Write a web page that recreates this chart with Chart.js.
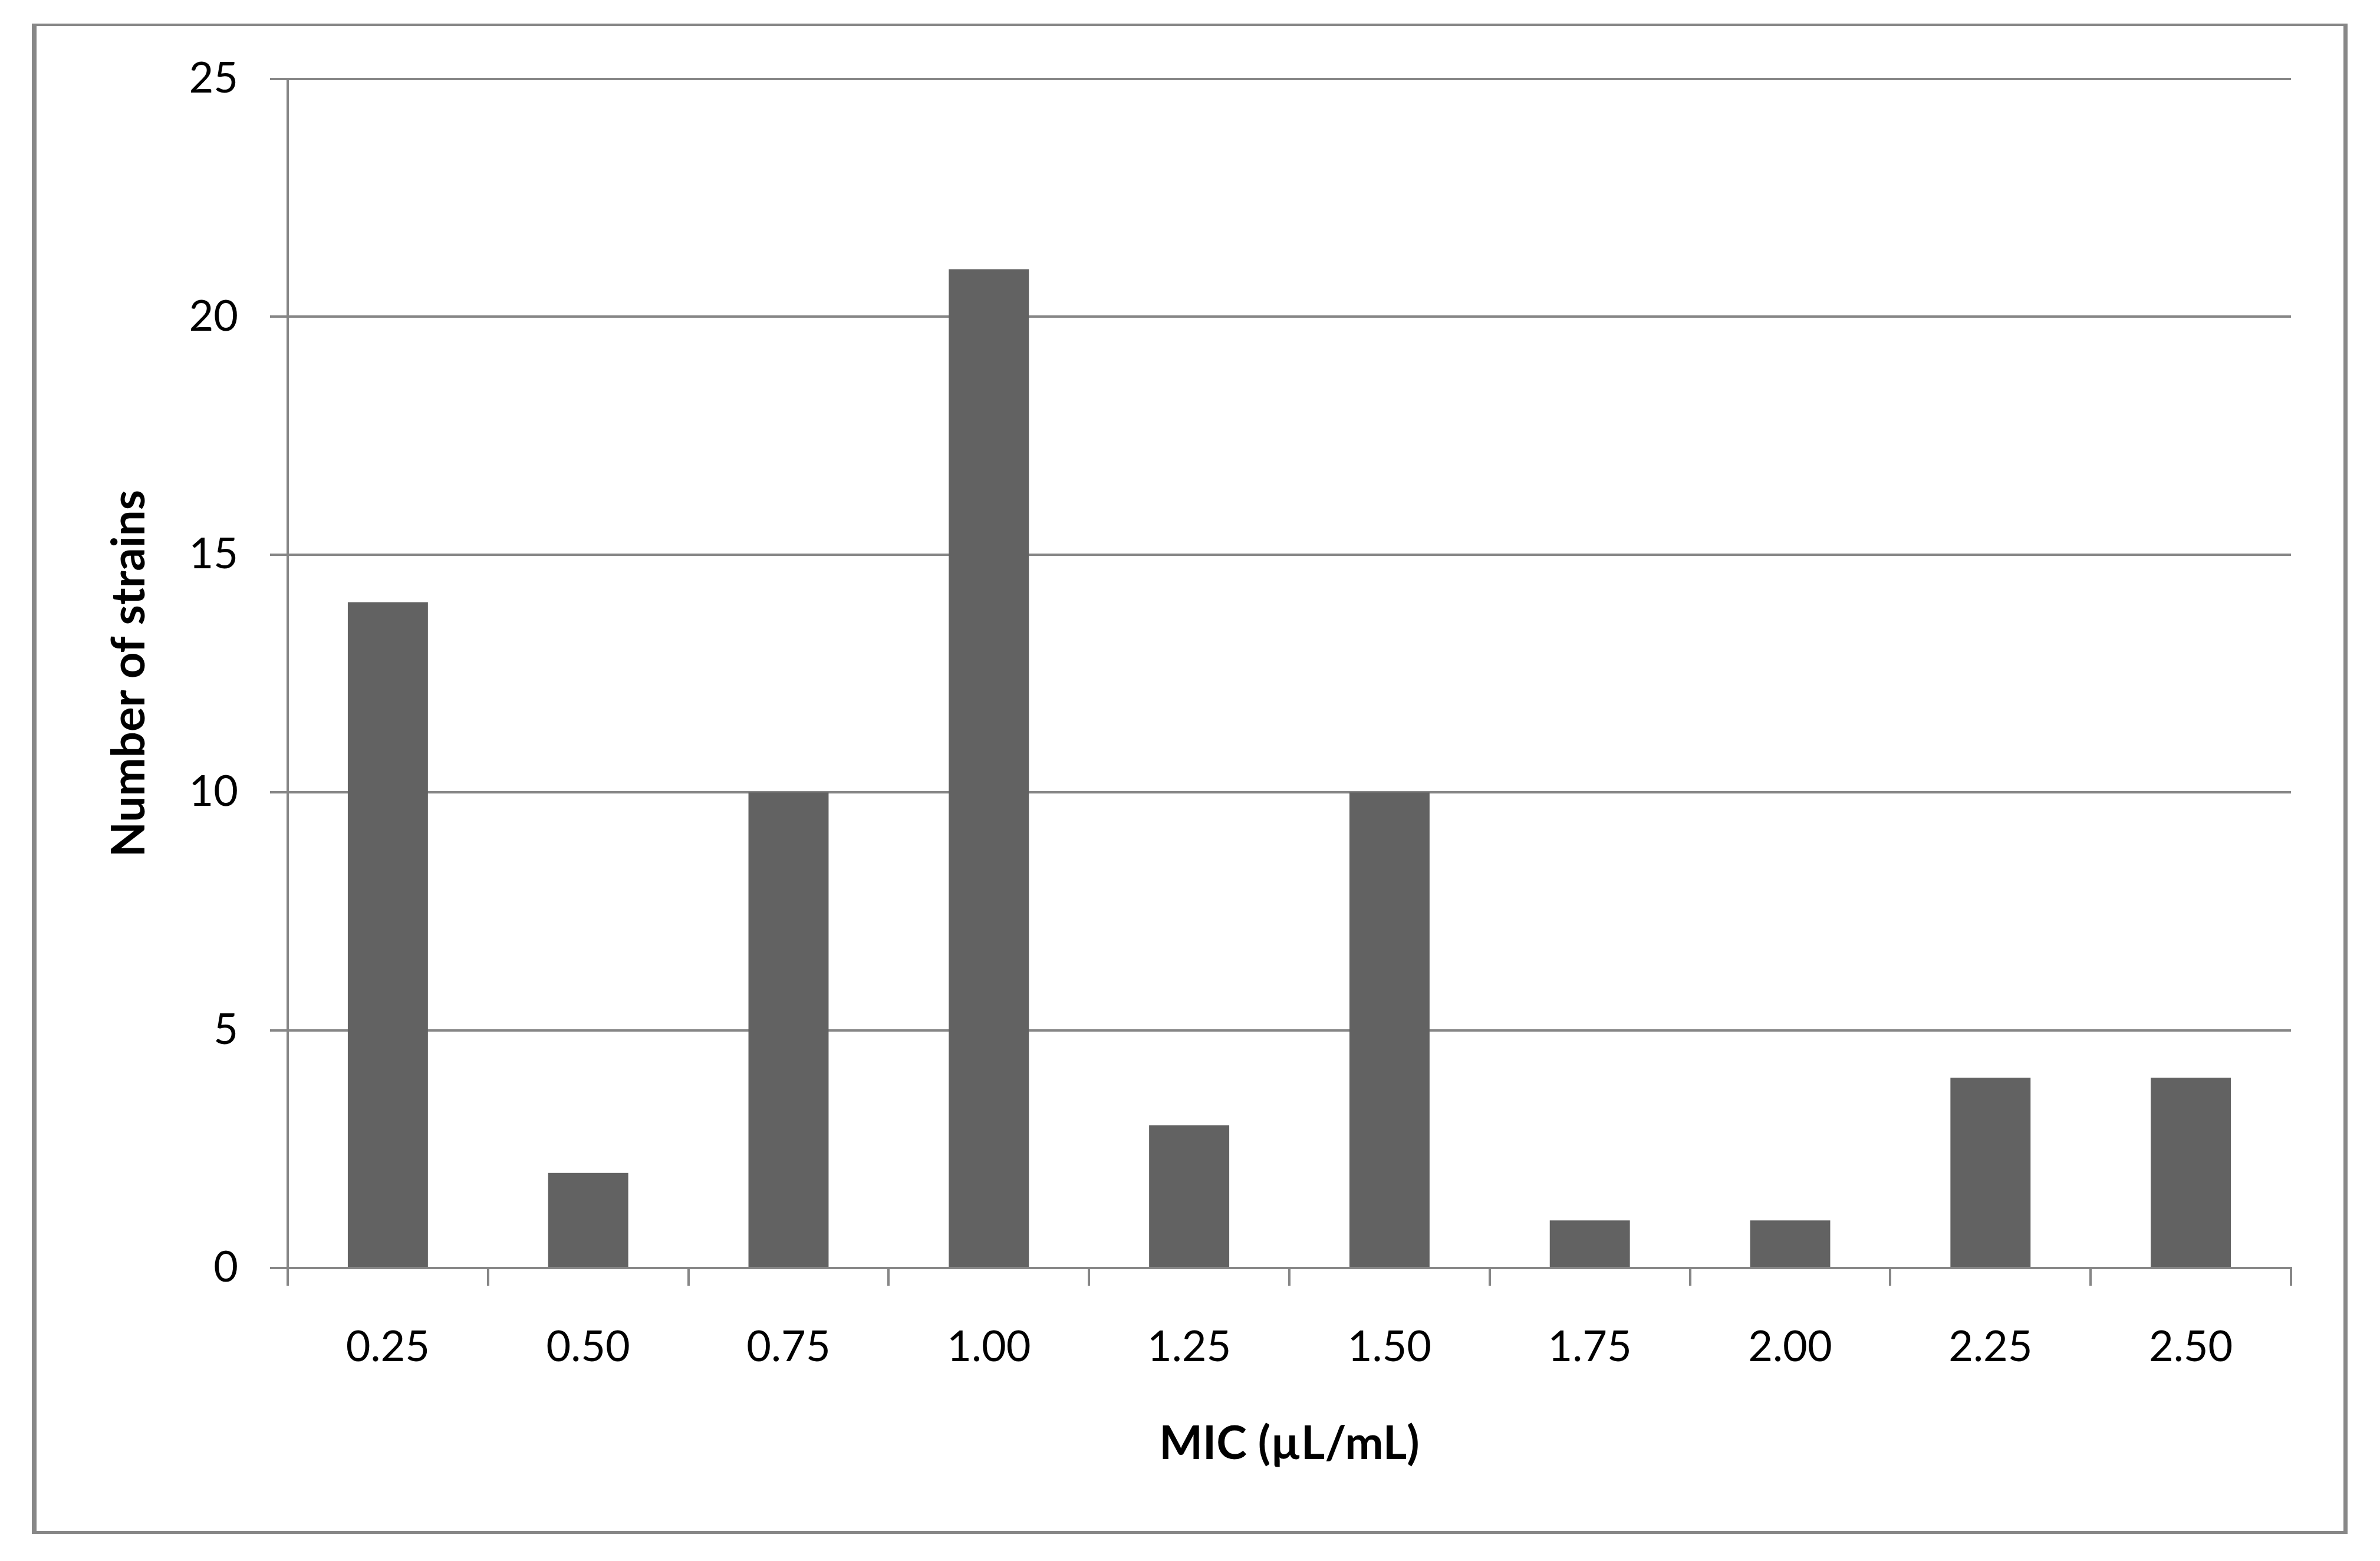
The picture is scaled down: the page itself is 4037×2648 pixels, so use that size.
<!DOCTYPE html>
<html>
<head>
<meta charset="utf-8">
<script src="https://cdn.jsdelivr.net/npm/chart.js@4.4.1/dist/chart.umd.min.js"></script>
<style>
  html, body { margin: 0; padding: 0; background: #ffffff; }
  #wrap { position: relative; width: 4037px; height: 2648px; }
  canvas { display: block; }
</style>
</head>
<body>
<div id="wrap"><canvas id="c" width="4037" height="2648"></canvas></div>
<script>
// ---- Data ----
const categories = ['0.25', '0.50', '0.75', '1.00', '1.25', '1.50', '1.75', '2.00', '2.25', '2.50'];
const strainCounts = [14, 2, 10, 21, 3, 10, 1, 1, 4, 4];
const yTicks = [0, 5, 10, 15, 20, 25];
const xTitle = 'MIC (\u00B5L/mL)';
const yTitle = 'Number of strains';

// ---- Styles ----
const axisGray = '#868686';
const barGray = '#626262';
const fontFamily = 'Lato, "Open Sans", sans-serif';

const framePlugin = {
  id: 'frame',
  afterDraw(chart) {
    const ctx = chart.ctx;
    ctx.save();
    ctx.fillStyle = '#878787';
    ctx.fillRect(54, 40, 3928, 4);
    ctx.fillRect(54, 40, 8, 2562);
    ctx.fillRect(3975, 40, 7, 2562);
    ctx.fillRect(54, 2597, 3928, 5);
    ctx.restore();
  }
};

function build() {
  new Chart(document.getElementById('c'), {
    type: 'bar',
    data: {
      labels: categories,
      datasets: [{
        data: strainCounts,
        backgroundColor: barGray,
        borderWidth: 0,
        barPercentage: 0.4,
        categoryPercentage: 1.0
      }]
    },
    options: {
      responsive: false,
      animation: false,
      events: [],
      layout: { padding: { left: 173, right: 151, top: 134, bottom: 151 } },
      plugins: { legend: { display: false }, tooltip: { enabled: false } },
      scales: {
        x: {
          type: 'category',
          offset: true,
          grid: {
            display: true,
            offset: true,
            drawOnChartArea: false,
            drawTicks: true,
            tickLength: 30,
            color: axisGray,
            lineWidth: 4
          },
          border: { display: true, color: axisGray, width: 4 },
          ticks: {
            color: '#000000',
            padding: 62,
            font: { family: fontFamily, size: 72, lineHeight: 1.2 },
            maxRotation: 0,
            autoSkip: false
          },
          title: {
            display: true,
            text: xTitle,
            color: '#000000',
            font: { family: fontFamily, size: 78, weight: 'bold', lineHeight: 1.2 },
            padding: 0
          },
          afterFit(scale) { scale.height = 346; }
        },
        y: {
          min: 0,
          max: 25,
          afterBuildTicks(scale) { scale.ticks = yTicks.map(v => ({ value: v })); },
          grid: {
            color: axisGray,
            lineWidth: 4,
            drawTicks: true,
            tickLength: 30
          },
          border: { display: true, color: axisGray, width: 4 },
          ticks: {
            color: '#000000',
            padding: 54,
            font: { family: fontFamily, size: 72, lineHeight: 1.2 }
          },
          title: {
            display: true,
            text: yTitle,
            color: '#000000',
            font: { family: fontFamily, size: 78, weight: 'bold', lineHeight: 1.2 },
            padding: 0
          },
          afterFit(scale) { scale.width = 315; }
        }
      }
    },
    plugins: [framePlugin]
  });
}

Promise.all([
  document.fonts.load('72px Lato'),
  document.fonts.load('bold 78px Lato')
]).then(build, build);
</script>
</body>
</html>
